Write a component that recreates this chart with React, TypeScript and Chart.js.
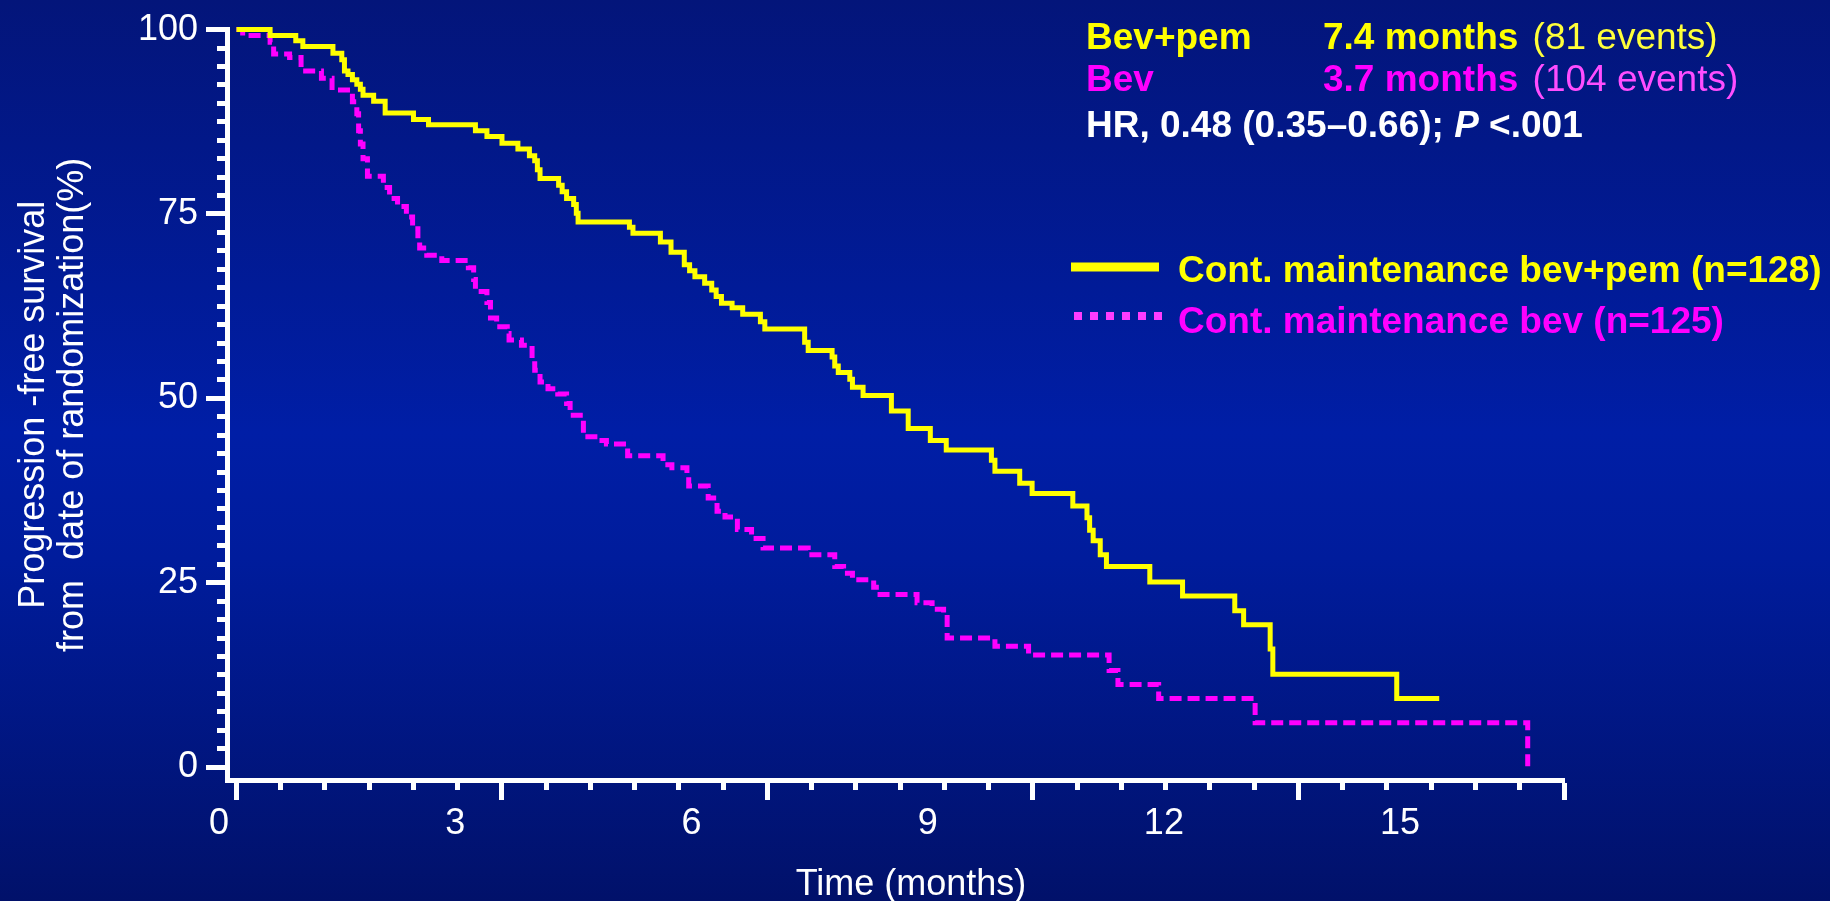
import { useEffect, useRef } from 'react';
import { Chart, registerables } from 'chart.js';

Chart.register(...registerables);

// Kaplan–Meier steps: time of each drop (months) and PFS (%) after the drop
const bevPemMonths = [
  0, 0.38, 0.67, 0.75, 1.09, 1.19, 1.22, 1.26, 1.31, 1.36, 1.40, 1.43, 1.55, 1.68, 2.00,
  2.17, 2.70, 2.83, 3.00, 3.18, 3.31, 3.37, 3.40, 3.43, 3.64, 3.68, 3.73, 3.81, 3.84, 3.86,
  4.44, 4.48, 4.79, 4.91, 5.06, 5.12, 5.18, 5.29, 5.37, 5.42, 5.48, 5.60, 5.72, 5.92, 5.97,
  6.42, 6.46, 6.73, 6.76, 6.80, 6.93, 6.96, 7.08, 7.40, 7.59, 7.84, 8.02, 8.53, 8.57, 8.85,
  8.99, 9.45, 9.61, 9.64, 9.68, 9.76, 9.83, 10.32, 10.69, 11.28, 11.38, 11.68, 11.71, 13.11, 13.59,
];
const bevPemPfs = [
  100, 99.2, 98.5, 97.7, 96.8, 95.9, 94.4, 93.9, 93.2, 92.6, 91.9, 91.1, 90.3, 88.7, 87.8,
  87.1, 86.3, 85.5, 84.6, 83.8, 82.9, 82.2, 81.0, 79.8, 78.9, 78.0, 77.1, 76.3, 75.1, 73.9,
  73.2, 72.4, 71.2, 69.8, 68.1, 67.3, 66.5, 65.6, 64.7, 63.8, 62.9, 62.3, 61.4, 60.4, 59.4,
  57.6, 56.5, 55.6, 54.4, 53.5, 52.6, 51.5, 50.4, 48.3, 45.9, 44.3, 43.0, 41.6, 40.1, 38.5,
  37.1, 35.4, 33.8, 32.1, 30.7, 28.8, 27.2, 25.1, 23.2, 21.2, 19.3, 16.0, 12.6, 9.3, 9.3,
];

const bevMonths = [
  0, 0.07, 0.38, 0.42, 0.60, 0.73, 0.96, 1.08, 1.31, 1.36, 1.38, 1.40, 1.43, 1.48, 1.66,
  1.73, 1.82, 1.92, 1.99, 2.05, 2.07, 2.15, 2.32, 2.62, 2.68, 2.70, 2.83, 2.87, 2.94, 3.06,
  3.08, 3.22, 3.34, 3.37, 3.43, 3.52, 3.63, 3.73, 3.77, 3.92, 4.13, 4.18, 4.42, 4.82, 4.92,
  5.09, 5.11, 5.33, 5.43, 5.52, 5.66, 5.82, 5.95, 6.46, 6.76, 6.86, 6.96, 7.20, 7.23, 7.69,
  7.86, 7.99, 8.03, 8.57, 8.95, 9.86, 9.96, 10.42, 11.51, 14.59,
];
const bevPfs = [
  100, 99.2, 98.3, 96.7, 96.2, 94.4, 93.4, 91.8, 90.2, 88.6, 86.3, 84.5, 82.5, 80.1, 78.6,
  77.1, 76.0, 74.6, 73.0, 71.7, 70.4, 69.4, 68.7, 67.7, 66.1, 64.5, 63.0, 60.9, 59.7, 58.8,
  57.9, 57.2, 55.1, 53.8, 52.2, 51.3, 50.6, 49.3, 47.7, 44.8, 44.3, 43.8, 42.2, 41.0, 40.6,
  39.5, 38.1, 36.5, 34.7, 33.9, 32.2, 31.0, 29.7, 28.8, 27.2, 26.3, 25.4, 24.4, 23.4, 22.3,
  21.4, 20.3, 17.5, 16.4, 15.2, 13.1, 11.2, 9.3, 6.0, 0,
];

// Axis tick values and labels
const xMinorTicks = Array.from({ length: 31 }, (_, i) => i * 0.5);
const xMajorTicks = [0, 3, 6, 9, 12, 15];
const xTickLabels = ['0', '3', '6', '9', '12', '15'];
const yMinorTicks = Array.from({ length: 41 }, (_, i) => i * 2.5);
const yMajorTicks = [0, 25, 50, 75, 100];

// Texts
const seriesLabels = ['Cont. maintenance bev+pem (n=128)', 'Cont. maintenance bev (n=125)'];
const armNames = ['Bev+pem', 'Bev'];
const medianTexts = ['7.4 months', '3.7 months'];
const eventTexts = ['(81 events)', '(104 events)'];
const hrText = 'HR, 0.48 (0.35\u20130.66); ';
const pLabel = 'P';
const pValue = '<.001';
const xTitle = 'Time (months)';
const yTitle = ['Progression -free survival', 'from  date of randomization(%)'];

const YELLOW = '#ffff00';
const MAGENTA = '#ff00ff';
const WHITE = '#ffffff';
const FONT = '"Liberation Sans", Arial, Helvetica, sans-serif';

const toPoints = (xs: number[], ys: number[]) => xs.map((x, i) => ({ x, y: ys[i] }));

const overlayPlugin = {
  id: 'kmOverlay',
  afterDraw(chart: any) {
    const { ctx } = chart;
    const ds = chart.data.datasets;
    ctx.save();
    ctx.textAlign = 'left';
    ctx.textBaseline = 'alphabetic';
    const bold = `bold 37px ${FONT}`;
    const regular = `37px ${FONT}`;
    const colX = 1086;
    const medX = 1323;

    // median summary rows
    const rows = [
      { y: 49, color: YELLOW, evColor: '#ffff3a' },
      { y: 91, color: MAGENTA, evColor: '#ff4dff' },
    ];
    rows.forEach((r, i) => {
      ctx.font = bold;
      ctx.fillStyle = r.color;
      ctx.fillText(armNames[i], colX, r.y);
      ctx.fillText(medianTexts[i], medX, r.y);
      const w = ctx.measureText(medianTexts[i] + ' ').width + 4;
      ctx.font = regular;
      ctx.fillStyle = r.evColor;
      ctx.fillText(eventTexts[i], medX + w, r.y);
    });

    // hazard ratio row
    let x = colX;
    const hrY = 137;
    ctx.fillStyle = WHITE;
    ctx.font = bold;
    ctx.fillText(hrText, x, hrY);
    x += ctx.measureText(hrText).width;
    ctx.font = `italic bold 37px ${FONT}`;
    ctx.fillText(pLabel, x, hrY);
    x += ctx.measureText(pLabel).width;
    ctx.font = bold;
    x += ctx.measureText(' ').width;
    ctx.fillText(pValue, x, hrY);

    // legend
    ctx.fillStyle = ds[0].borderColor;
    ctx.fillRect(1071, 262.5, 88, 9);
    ctx.font = bold;
    ctx.fillText(ds[0].label, 1178, 282);

    ctx.fillStyle = '#ff3cff';
    for (let k = 0; k < 6; k++) ctx.fillRect(1074 + k * 16, 312, 8, 8);
    ctx.fillStyle = ds[1].borderColor;
    ctx.fillText(ds[1].label, 1178, 332.5);

    // x-axis title
    ctx.fillStyle = WHITE;
    ctx.font = `36px ${FONT}`;
    ctx.textAlign = 'center';
    ctx.fillText(xTitle, 911, 895);
    ctx.restore();
  },
};

const tickFont = { family: FONT, size: 36, lineHeight: 1.2 };

export default function App() {
  const canvasRef = useRef<HTMLCanvasElement | null>(null);

  useEffect(() => {
    const canvas = canvasRef.current;
    if (!canvas) return;

    const X_MIN = -0.107;
    const X_MAX = 15;
    const Y_MIN = -1.75;
    const Y_MAX = 100;

    const chart = new Chart(canvas, {
      type: 'line',
      data: {
        datasets: [
          {
            label: seriesLabels[0],
            data: toPoints(bevPemMonths, bevPemPfs),
            borderColor: YELLOW,
            borderWidth: 5,
            stepped: 'before',
            pointRadius: 0,
            fill: false,
            tension: 0,
            borderJoinStyle: 'miter',
            borderCapStyle: 'butt',
            clip: false,
          },
          {
            label: seriesLabels[1],
            data: toPoints(bevMonths, bevPfs),
            borderColor: MAGENTA,
            borderWidth: 5,
            borderDash: [12, 6],
            stepped: 'before',
            pointRadius: 0,
            fill: false,
            tension: 0,
            borderJoinStyle: 'miter',
            borderCapStyle: 'butt',
            clip: false,
          },
        ],
      },
      options: {
        animation: false,
        responsive: false,
        events: [],
        layout: { padding: { left: 0, right: 266, top: 25, bottom: 0 } },
        plugins: {
          legend: { display: false },
          tooltip: { enabled: false },
          title: { display: false },
        },
        scales: {
          x: {
            type: 'linear',
            position: 'bottom',
            weight: 0,
            min: X_MIN,
            max: X_MAX,
            bounds: 'data',
            afterBuildTicks: (s: any) => {
              s.ticks = xMinorTicks.map((v) => ({ value: v }));
            },
            afterFit: (s: any) => {
              s.height = 10;
            },
            ticks: { display: false },
            grid: { drawOnChartArea: false, drawTicks: true, tickLength: 10, tickWidth: 5, tickColor: WHITE },
            border: { display: true, color: WHITE, width: 5 },
          },
          xMajor: {
            type: 'linear',
            position: 'bottom',
            weight: 1,
            min: X_MIN,
            max: X_MAX,
            bounds: 'data',
            afterBuildTicks: (s: any) => {
              s.ticks = xMajorTicks.map((v) => ({ value: v }));
            },
            afterFit: (s: any) => {
              s.height = 10;
            },
            ticks: { display: false },
            grid: { drawOnChartArea: false, drawTicks: true, tickLength: 10, tickWidth: 5, tickColor: WHITE },
            border: { display: false },
          },
          xLabels: {
            type: 'linear',
            position: 'bottom',
            weight: 2,
            min: 0,
            max: 16.98,
            bounds: 'data',
            afterBuildTicks: (s: any) => {
              s.ticks = xMajorTicks.map((v) => ({ value: v }));
            },
            afterFit: (s: any) => {
              s.height = 101;
            },
            ticks: {
              color: WHITE,
              font: tickFont,
              padding: 2,
              labelOffset: -8,
              autoSkip: false,
              maxRotation: 0,
              callback: (_v: any, i: number) => xTickLabels[i],
            },
            grid: { display: false, drawTicks: false },
            border: { display: false },
          },
          y: {
            type: 'linear',
            position: 'left',
            weight: 0,
            min: Y_MIN,
            max: Y_MAX,
            bounds: 'data',
            afterBuildTicks: (s: any) => {
              s.ticks = yMinorTicks.map((v) => ({ value: v }));
            },
            afterFit: (s: any) => {
              s.width = 10;
            },
            ticks: { display: false },
            grid: { drawOnChartArea: false, drawTicks: true, tickLength: 10, tickWidth: 5, tickColor: WHITE },
            border: { display: true, color: WHITE, width: 5 },
          },
          yMajor: {
            type: 'linear',
            position: 'left',
            weight: 1,
            min: Y_MIN,
            max: Y_MAX,
            bounds: 'data',
            afterBuildTicks: (s: any) => {
              s.ticks = yMajorTicks.map((v) => ({ value: v }));
            },
            afterFit: (s: any) => {
              s.width = 217;
            },
            ticks: {
              color: WHITE,
              font: tickFont,
              padding: 8,
              autoSkip: false,
              callback: (v: any) => String(v),
            },
            grid: { drawOnChartArea: false, drawTicks: true, tickLength: 11, tickWidth: 5, tickColor: WHITE },
            border: { display: false },
            title: {
              display: true,
              text: yTitle,
              color: WHITE,
              font: { family: FONT, size: 36, lineHeight: 1.1 },
              padding: { top: 14, bottom: 0 },
            },
          },
        },
      },
      plugins: [overlayPlugin],
    } as any);

    return () => chart.destroy();
  }, []);

  return (
    <div
      style={{
        position: 'absolute',
        left: 0,
        top: 0,
        width: 1830,
        height: 901,
        background:
          'linear-gradient(to bottom, #03157a 0%, #001ea6 48%, #001c9c 62%, #01116a 100%)',
      }}
    >
      <canvas ref={canvasRef} width={1830} height={901} style={{ display: 'block' }} />
    </div>
  );
}
